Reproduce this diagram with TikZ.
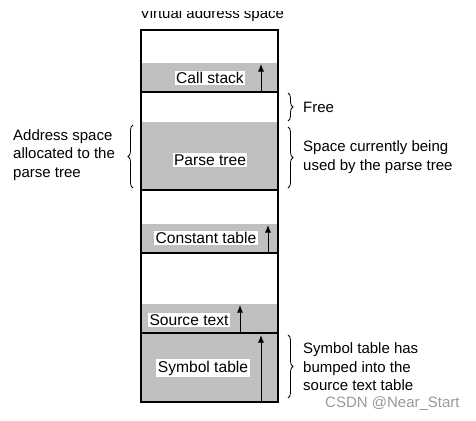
\documentclass[tikz,border=0pt]{standalone}
\usepackage{fontspec}
\setmainfont{Liberation Sans}
\usetikzlibrary{arrows.meta, decorations.pathreplacing}

\tikzset{
  lbl/.style={fill=white, inner sep=1.5pt, font=\fontsize{15.6}{18}\selectfont},
  note/.style={anchor=west, align=left, inner sep=0pt, font=\fontsize{15}{18.5}\selectfont},
  used/.style={fill=black!25},
  sep/.style={line width=1.8pt},
  growarrow/.style={-{Latex[length=7.5pt,width=6pt]}, line width=1pt},
  brc/.style={decorate, decoration={brace, amplitude=5pt}, line width=0.8pt}
}

\begin{document}
\begin{tikzpicture}[x=1pt, y=-1pt]
\useasboundingbox (0,0) rectangle (476,420);

% title (cut at the top, as in the scan)
\begin{scope}
  \clip (0,12) rectangle (476,30);
  \node[note, anchor=base] (title) at (212,18.5) {Virtual address space};
\end{scope}

% used parts of the address space
\fill[used] (141,63) rectangle (278,92);
\fill[used] (141,122) rectangle (278,190);
\fill[used] (141,224) rectangle (278,253);
\fill[used] (141,304) rectangle (278,333);
\fill[used] (141,333) rectangle (278,402);

% chunk boundaries
\draw[sep] (141,92) -- (278,92);
\draw[sep] (141,190) -- (278,190);
\draw[sep] (141,253) -- (278,253);
\draw[sep] (141,333) -- (278,333);
\draw[line width=1.3pt] (141,30) rectangle (278,402);

% growth arrows
\coordinate (cs0) at (261,92);  \coordinate (cs1) at (261,64);
\coordinate (ct0) at (268,253); \coordinate (ct1) at (268,225);
\coordinate (st0) at (240,333); \coordinate (st1) at (240,305);
\coordinate (sy0) at (261,402); \coordinate (sy1) at (261,335);
\draw[growarrow] (cs0) -- (cs1);
\draw[growarrow] (ct0) -- (ct1);
\draw[growarrow] (st0) -- (st1);
\draw[growarrow] (sy0) -- (sy1);

% chunk names
\node[lbl] (callstack) at (210,78) {Call stack};
\node[lbl] (parsetree) at (210,160) {Parse tree};
\node[lbl] (consttab) at (206,238) {Constant table};
\node[lbl] (srctext) at (189,320) {Source text};
\node[lbl] (symtab) at (203,368) {Symbol table};

% braces and notes
\coordinate (fr0) at (288,93);  \coordinate (fr1) at (288,121);
\coordinate (pt0) at (288,127); \coordinate (pt1) at (288,188);
\coordinate (al0) at (133,188); \coordinate (al1) at (133,125);
\coordinate (sb0) at (288,335); \coordinate (sb1) at (288,398);
\draw[brc] (fr0) -- (fr1);
\draw[brc] (pt0) -- (pt1);
\draw[brc] (al0) -- (al1);
\draw[brc] (sb0) -- (sb1);

\node[note] (free) at (303,107) {Free};
\node[note] (inuse) at (303,157) {Space currently being\\used by the parse tree};
\node[note] (alloc) at (13,155) {Address space\\allocated to the\\parse tree};
\node[note] (bumped) at (303,367) {Symbol table has\\bumped into the\\source text table};

\node[note, text=black!40] (mark) at (325,404) {CSDN @Near\_Start};
\end{tikzpicture}
\end{document}
